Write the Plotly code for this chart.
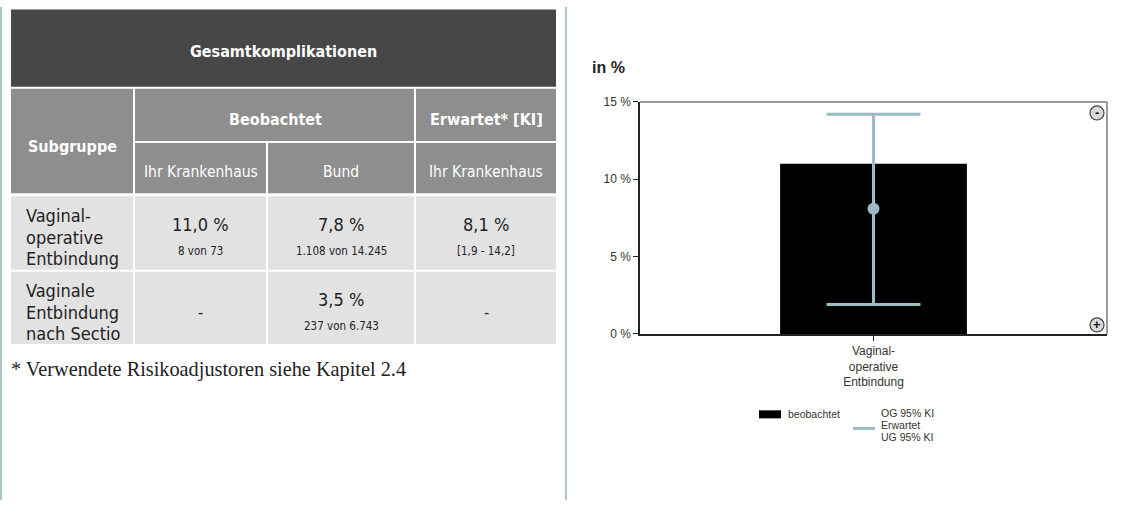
import plotly.graph_objects as go

# ---------------- data ----------------
table_title = "Gesamtkomplikationen"
header_top = ["Subgruppe", "Beobachtet", "Erwartet* [KI]"]
header_sub = ["Ihr Krankenhaus", "Bund", "Ihr Krankenhaus"]
subgroups = [["Vaginal-", "operative", "Entbindung"],
             ["Vaginale", "Entbindung", "nach Sectio"]]
obs_hospital = ["11,0 %", "-"]
obs_hospital_n = ["8 von 73", ""]
obs_bund = ["7,8 %", "3,5 %"]
obs_bund_n = ["1.108 von 14.245", "237 von 6.743"]
exp_hospital = ["8,1 %", "-"]
exp_hospital_ci = ["[1,9 - 14,2]", ""]
footnote = "* Verwendete Risikoadjustoren siehe Kapitel 2.4"

chart_categories = ["Vaginal-<br>operative<br>Entbindung"]
observed = [11.0]
expected = [8.1]
ci_low = [1.9]
ci_high = [14.2]
y_ticks = [0, 5, 10, 15]
y_tick_labels = ["0 %", "5 %", "10 %", "15 %"]
legend_bar = "beobachtet"
legend_line = ["OG 95% KI", "Erwartet", "UG 95% KI"]

# ---------------- layout helpers ----------------
W, H = 1127, 507
def px(x): return x / W
def py(y):
    # target pixel row -> paper fraction (compensates the capture's vertical inset)
    return 1 - ((y - 7.5) / 0.968) / H

shapes = []
annotations = []

def rect(x0, y0, x1, y1, color, line=None, layer="below"):
    shapes.append(dict(type="rect", xref="paper", yref="paper",
                       x0=px(x0), x1=px(x1), y0=py(y1), y1=py(y0),
                       fillcolor=color, line=line or dict(width=0), layer=layer))

def text(x, y, s, size, color="#222", family="Liberation Sans", anchor="center", bold=False):
    if bold:
        s = "<b>" + s + "</b>"
    annotations.append(dict(xref="paper", yref="paper", x=px(x), y=py(y), text=s,
                            showarrow=False, xanchor=anchor, yanchor="middle",
                            font=dict(size=size, color=color, family=family)))

TF = "DejaVu Sans Condensed, Roboto, sans-serif"
dark, mid, light = "#474747", "#8e8e8e", "#e2e2e2"

# title
rect(11, 10, 556, 87, dark)
text(283, 52, table_title, 16, "white", TF, bold=True)
# header
rect(11, 89, 133, 193, mid)
rect(135, 89, 414, 141, mid)
rect(416, 89, 556, 141, mid)
text(72, 146, header_top[0], 16, "white", TF, bold=True)
text(275, 119, header_top[1], 16, "white", TF, bold=True)
text(486, 119, header_top[2], 16, "white", TF, bold=True)
sub_x = [(135, 266), (268, 414), (416, 556)]
for (a, b), s in zip(sub_x, header_sub):
    rect(a, 143, b, 193, mid)
    text((a + b) / 2, 172, s, 15.5, "white", TF)

# data rows
row_y = [(196, 269), (271, 343)]
for r, (y0, y1) in enumerate(row_y):
    rect(11, y0, 133, y1, light)
    for (a, b) in sub_x:
        rect(a, y0, b, y1, light)
    for k, line in enumerate(subgroups[r]):
        text(24, y0 + 19 + 21.5 * k, line, 18, "#222", TF, anchor="left")
    vals = [(obs_hospital[r], obs_hospital_n[r]), (obs_bund[r], obs_bund_n[r]),
            (exp_hospital[r], exp_hospital_ci[r])]
    for (a, b), (v, n) in zip(sub_x, vals):
        cx = (a + b) / 2
        if n:
            text(cx, y0 + 28, v, 18, "#222", TF)
            text(cx, y0 + 54, n, 11.5, "#222", TF)
        else:
            text(cx, (y0 + y1) / 2 + 5, v, 16, "#222", TF)

text(9, 368, footnote, 20.3, "#222", "Liberation Serif", anchor="left")

# separators
for x in (1, 566):
    shapes.append(dict(type="line", xref="paper", yref="paper", x0=px(x), x1=px(x),
                       y0=0, y1=1, line=dict(color="#a9c6cd", width=2)))

# chart extras
text(590, 68, "in %", 16, "#222", "Liberation Sans", anchor="left", bold=True)
shapes.append(dict(type="line", xref="x domain", yref="y domain", x0=0, x1=1, y0=1, y1=1,
                   line=dict(color="#7a7a7a", width=1.5)))
shapes.append(dict(type="line", xref="x domain", yref="y domain", x0=1, x1=1, y0=0, y1=1,
                   line=dict(color="#7a7a7a", width=1.5)))
for cy, sym in ((113, "-"), (324, "+")):
    shapes.append(dict(type="circle", xref="paper", yref="paper",
                       x0=px(1090), x1=px(1104), y0=py(cy + 7), y1=py(cy - 7),
                       fillcolor="#d9d9d9", line=dict(color="#444", width=1.2), layer="above"))
    text(1097, cy, sym, 13, "#111", "Liberation Sans", bold=True)

# legend
rect(759, 409, 781, 417, "black")
text(786, 413, legend_bar, 10.5, "#333", "Liberation Sans", anchor="left")
shapes.append(dict(type="line", xref="paper", yref="paper", x0=px(853), x1=px(875),
                   y0=py(427), y1=py(427), line=dict(color="#9bbcc4", width=3)))
for k, s in enumerate(legend_line):
    text(879, 412 + 12 * k, s, 10.5, "#333", "Liberation Sans", anchor="left")

# ---------------- figure ----------------
fig = go.Figure()
fig.add_trace(go.Bar(x=chart_categories, y=observed, width=0.4,
                     marker=dict(color="black", line=dict(width=0)),
                     showlegend=False, hoverinfo="skip"))
fig.add_trace(go.Scatter(x=chart_categories, y=expected, mode="markers",
                         marker=dict(color="#9bbcc4", size=12),
                         error_y=dict(type="data", symmetric=False,
                                      array=[h - e for h, e in zip(ci_high, expected)],
                                      arrayminus=[e - l for l, e in zip(ci_low, expected)],
                                      color="#9bbcc4", thickness=3, width=47),
                         showlegend=False))

fig.update_layout(
    width=W, height=H, margin=dict(l=0, r=0, t=0, b=0),
    paper_bgcolor="white", plot_bgcolor="white", showlegend=False,
    shapes=shapes, annotations=annotations,
    xaxis=dict(domain=[px(640), px(1107)], range=[-0.5, 0.5], type="category",
               showline=True, linecolor="#222", linewidth=1.5, ticks="outside",
               ticklen=5, tickcolor="#222", showgrid=False,
               tickfont=dict(family="Liberation Sans", size=12, color="#333")),
    yaxis=dict(domain=[py(333), py(102)], range=[0, 15], tickvals=y_ticks,
               ticktext=y_tick_labels, showline=True, linecolor="#222", linewidth=1.5,
               ticks="outside", ticklen=5, tickcolor="#222", showgrid=False, zeroline=False,
               tickfont=dict(family="Liberation Sans", size=12, color="#333")),
)

post = ("document.documentElement.style.margin='0';document.documentElement.style.overflow='hidden';"
        "document.body.style.margin='0';document.body.style.overflow='hidden';"
        "var d=document.getElementsByClassName('plotly-graph-div')[0];"
        "d.style.position='fixed';d.style.top='0px';d.style.left='0px';")
fig.write_html("out.html", config={"displayModeBar": False}, post_script=post)
